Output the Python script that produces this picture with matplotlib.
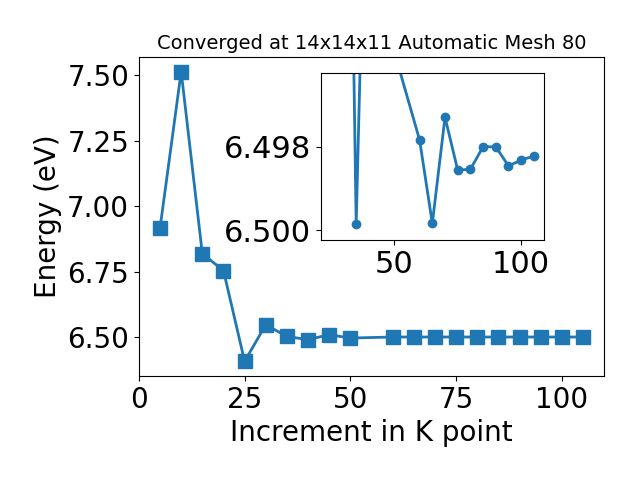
import matplotlib
matplotlib.use("Agg")
import matplotlib.pyplot as plt

# k-point increment vs total energy
kpoints = [5, 10, 15, 20, 25, 30, 35, 40, 45, 50,
           60, 65, 70, 75, 80, 85, 90, 95, 100, 105]
energy = [6.916, 7.514, 6.818, 6.754, 6.407, 6.547, 6.502, 6.490, 6.509, 6.496,
          6.500, 6.500, 6.500, 6.500, 6.500, 6.500, 6.500, 6.500, 6.500, 6.500]

# zoomed view of the converged tail
inset_k = [25, 30, 35, 40, 45, 50, 60, 65, 70, 75, 80, 85, 90, 95, 100, 105]
inset_e = [6.407, 6.4796, 6.49986, 6.4877, 6.4905, 6.49571, 6.49784, 6.49984,
           6.49729, 6.49856, 6.49854, 6.4980, 6.4980, 6.49846, 6.49832, 6.49822]
inset_yticks = [6.498, 6.500]

fig = plt.figure(figsize=(6.4, 4.8), dpi=100)
ax = fig.add_subplot(111)
fig.subplots_adjust(left=0.217, right=0.944, bottom=0.217, top=0.881)

ax.plot(kpoints, energy, marker="s", markersize=10, linewidth=2, color="#1f77b4")
ax.set_title("Converged at 14x14x11 Automatic Mesh 80", fontsize=14)
ax.set_xlabel("Increment in K point", fontsize=20)
ax.set_ylabel("Energy (eV)", fontsize=20)
ax.tick_params(labelsize=20)

axin = fig.add_axes([0.501, 0.5, 0.349, 0.3485])
axin.plot(inset_k, inset_e, marker="o", markersize=6, linewidth=2, color="#1f77b4")
axin.set_xlim(21, 109)
axin.set_ylim(6.50024, 6.49622)
axin.set_yticks(inset_yticks)
axin.set_yticklabels([f"{v:.3f}" for v in inset_yticks])
axin.tick_params(labelsize=22)

fig.savefig("out.png", dpi=100)
